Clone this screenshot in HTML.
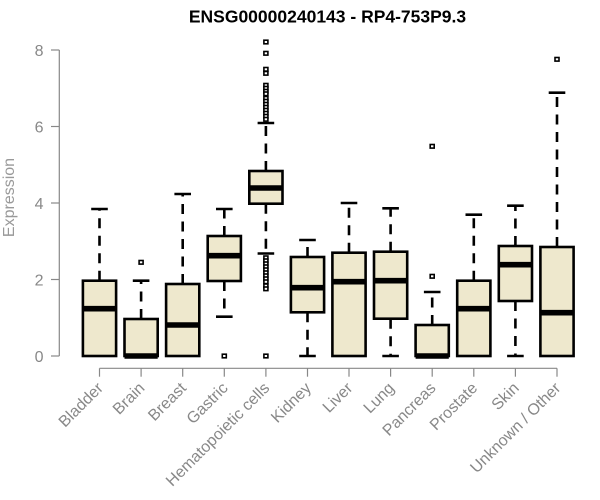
<!DOCTYPE html>
<html>
<head>
<meta charset="utf-8">
<style>
html,body{margin:0;padding:0;background:#fff;}
svg{display:block;font-family:"Liberation Sans",Arial,sans-serif;}
</style>
</head>
<body>
<svg width="600" height="500" viewBox="0 0 600 500" xmlns="http://www.w3.org/2000/svg">
<rect width="600" height="500" fill="#fff"/>
<!-- title -->
<text x="327.5" y="22.5" text-anchor="middle" font-size="17.5" font-weight="bold" fill="#000">ENSG00000240143 - RP4-753P9.3</text>

<!-- y axis -->
<g stroke="#888" stroke-width="1.2" fill="none">
<line x1="59.3" y1="50" x2="59.3" y2="356"/>
<line x1="51" y1="356" x2="59.3" y2="356"/>
<line x1="51" y1="279.5" x2="59.3" y2="279.5"/>
<line x1="51" y1="203" x2="59.3" y2="203"/>
<line x1="51" y1="126.5" x2="59.3" y2="126.5"/>
<line x1="51" y1="50" x2="59.3" y2="50"/>
</g>
<g font-size="16" fill="#888" text-anchor="end">
<text x="43.5" y="361.8">0</text>
<text x="43.5" y="285.3">2</text>
<text x="43.5" y="208.8">4</text>
<text x="43.5" y="132.3">6</text>
<text x="43.5" y="55.8">8</text>
</g>
<text transform="translate(14,197.5) rotate(-90)" text-anchor="middle" font-size="16" fill="#999">Expression</text>

<!-- x axis -->
<g stroke="#888" stroke-width="1.2" fill="none">
<line x1="99.5" y1="368.3" x2="557" y2="368.3"/>
<line x1="99.5" y1="368.3" x2="99.5" y2="376.7"/>
<line x1="141.1" y1="368.3" x2="141.1" y2="376.7"/>
<line x1="182.7" y1="368.3" x2="182.7" y2="376.7"/>
<line x1="224.3" y1="368.3" x2="224.3" y2="376.7"/>
<line x1="265.9" y1="368.3" x2="265.9" y2="376.7"/>
<line x1="307.5" y1="368.3" x2="307.5" y2="376.7"/>
<line x1="349" y1="368.3" x2="349" y2="376.7"/>
<line x1="390.6" y1="368.3" x2="390.6" y2="376.7"/>
<line x1="432.2" y1="368.3" x2="432.2" y2="376.7"/>
<line x1="473.8" y1="368.3" x2="473.8" y2="376.7"/>
<line x1="515.4" y1="368.3" x2="515.4" y2="376.7"/>
<line x1="557" y1="368.3" x2="557" y2="376.7"/>
</g>
<g font-size="16" fill="#888" text-anchor="end">
<text transform="translate(104,389) rotate(-45)">Bladder</text>
<text transform="translate(145.6,389) rotate(-45)">Brain</text>
<text transform="translate(187.2,389) rotate(-45)">Breast</text>
<text transform="translate(228.8,389) rotate(-45)">Gastric</text>
<text transform="translate(270.4,389) rotate(-45)">Hematopoietic cells</text>
<text transform="translate(312,389) rotate(-45)">Kidney</text>
<text transform="translate(353.5,389) rotate(-45)">Liver</text>
<text transform="translate(395.1,389) rotate(-45)">Lung</text>
<text transform="translate(436.7,389) rotate(-45)">Pancreas</text>
<text transform="translate(478.3,389) rotate(-45)">Prostate</text>
<text transform="translate(519.9,389) rotate(-45)">Skin</text>
<text transform="translate(561.5,389) rotate(-45)">Unknown / Other</text>
</g>

<!-- whiskers (dashed) -->
<g stroke="#000" stroke-width="2.6" stroke-dasharray="10 7.5" fill="none">
<line x1="99.5" y1="280.7" x2="99.5" y2="209"/>
<line x1="141.1" y1="319" x2="141.1" y2="280.7"/>
<line x1="182.7" y1="284" x2="182.7" y2="194"/>
<line x1="224.3" y1="236" x2="224.3" y2="209"/>
<line x1="224.3" y1="281" x2="224.3" y2="316.7"/>
<line x1="265.9" y1="171" x2="265.9" y2="123"/>
<line x1="265.9" y1="203.7" x2="265.9" y2="253.5"/>
<line x1="307.5" y1="257" x2="307.5" y2="240"/>
<line x1="307.5" y1="312.3" x2="307.5" y2="356"/>
<line x1="349" y1="252.7" x2="349" y2="203"/>
<line x1="390.6" y1="251.7" x2="390.6" y2="208.3"/>
<line x1="390.6" y1="318.7" x2="390.6" y2="356"/>
<line x1="432.2" y1="325" x2="432.2" y2="292"/>
<line x1="473.8" y1="280.7" x2="473.8" y2="214.7"/>
<line x1="515.4" y1="246" x2="515.4" y2="205.7"/>
<line x1="515.4" y1="301" x2="515.4" y2="356"/>
<line x1="557" y1="247" x2="557" y2="92.7"/>
</g>
<!-- caps -->
<g stroke="#000" stroke-width="2.6" fill="none">
<line x1="91.2" y1="209" x2="107.8" y2="209"/>
<line x1="132.8" y1="280.7" x2="149.4" y2="280.7"/>
<line x1="174.4" y1="194" x2="191" y2="194"/>
<line x1="216" y1="209" x2="232.6" y2="209"/>
<line x1="216" y1="316.7" x2="232.6" y2="316.7"/>
<line x1="257.6" y1="123" x2="274.2" y2="123"/>
<line x1="257.6" y1="253.5" x2="274.2" y2="253.5"/>
<line x1="299.2" y1="240" x2="315.8" y2="240"/>
<line x1="299.2" y1="356" x2="315.8" y2="356"/>
<line x1="340.7" y1="203" x2="357.3" y2="203"/>
<line x1="382.3" y1="208.3" x2="398.9" y2="208.3"/>
<line x1="382.3" y1="356" x2="398.9" y2="356"/>
<line x1="423.9" y1="292" x2="440.5" y2="292"/>
<line x1="465.5" y1="214.7" x2="482.1" y2="214.7"/>
<line x1="507.1" y1="205.7" x2="523.7" y2="205.7"/>
<line x1="507.1" y1="356" x2="523.7" y2="356"/>
<line x1="548.7" y1="92.7" x2="565.3" y2="92.7"/>
</g>
<!-- boxes -->
<g fill="#EEE8CD" stroke="#000" stroke-width="2.6">
<rect x="82.9" y="280.7" width="33.2" height="75.3"/>
<rect x="124.5" y="319" width="33.2" height="37"/>
<rect x="166.1" y="284" width="33.2" height="72"/>
<rect x="207.7" y="236" width="33.2" height="45"/>
<rect x="249.3" y="171" width="33.2" height="32.7"/>
<rect x="290.9" y="257" width="33.2" height="55.3"/>
<rect x="332.4" y="252.7" width="33.2" height="103.3"/>
<rect x="374" y="251.7" width="33.2" height="67"/>
<rect x="415.6" y="325" width="33.2" height="31"/>
<rect x="457.2" y="280.7" width="33.2" height="75.3"/>
<rect x="498.8" y="246" width="33.2" height="55"/>
<rect x="540.4" y="247" width="33.2" height="109"/>
</g>
<!-- medians -->
<g stroke="#000" stroke-width="5.6">
<line x1="82.9" y1="308.7" x2="116.1" y2="308.7"/>
<line x1="124.5" y1="356" x2="157.7" y2="356"/>
<line x1="166.1" y1="325" x2="199.3" y2="325"/>
<line x1="207.7" y1="255.7" x2="240.9" y2="255.7"/>
<line x1="249.3" y1="188" x2="282.5" y2="188"/>
<line x1="290.9" y1="287.7" x2="324.1" y2="287.7"/>
<line x1="332.4" y1="281.7" x2="365.6" y2="281.7"/>
<line x1="374" y1="280.7" x2="407.2" y2="280.7"/>
<line x1="415.6" y1="356" x2="448.8" y2="356"/>
<line x1="457.2" y1="308.7" x2="490.4" y2="308.7"/>
<line x1="498.8" y1="264.7" x2="532" y2="264.7"/>
<line x1="540.4" y1="312.7" x2="573.6" y2="312.7"/>
</g>
<!-- outliers -->
<g fill="#fff" stroke="#000" stroke-width="1.6">
<rect x="139.1" y="260.5" width="4" height="3.6"/>
<rect x="222.3" y="354.2" width="4" height="3.6"/>
<rect x="263.9" y="40.2" width="4" height="3.6"/>
<rect x="263.9" y="51.5" width="4" height="3.6"/>
<rect x="263.9" y="67.5" width="4" height="3.6"/>
<rect x="263.9" y="71.5" width="4" height="3.6"/>
<rect x="263.9" y="83.5" width="4" height="3.6"/>
<rect x="263.9" y="86.5" width="4" height="3.6"/>
<rect x="263.9" y="89.5" width="4" height="3.6"/>
<rect x="263.9" y="92" width="4" height="3.6"/>
<rect x="263.9" y="96.5" width="4" height="3.6"/>
<rect x="263.9" y="99.5" width="4" height="3.6"/>
<rect x="263.9" y="102.5" width="4" height="3.6"/>
<rect x="263.9" y="105.5" width="4" height="3.6"/>
<rect x="263.9" y="108.5" width="4" height="3.6"/>
<rect x="263.9" y="111.5" width="4" height="3.6"/>
<rect x="263.9" y="114.5" width="4" height="3.6"/>
<rect x="263.9" y="117.5" width="4" height="3.6"/>
<rect x="263.9" y="256" width="4" height="3.6"/>
<rect x="263.9" y="259" width="4" height="3.6"/>
<rect x="263.9" y="262" width="4" height="3.6"/>
<rect x="263.9" y="265" width="4" height="3.6"/>
<rect x="263.9" y="268" width="4" height="3.6"/>
<rect x="263.9" y="271" width="4" height="3.6"/>
<rect x="263.9" y="274" width="4" height="3.6"/>
<rect x="263.9" y="277" width="4" height="3.6"/>
<rect x="263.9" y="280" width="4" height="3.6"/>
<rect x="263.9" y="284" width="4" height="3.6"/>
<rect x="263.9" y="287" width="4" height="3.6"/>
<rect x="263.9" y="354.2" width="4" height="3.6"/>
<rect x="430.2" y="274.5" width="4" height="3.6"/>
<rect x="430.2" y="144.5" width="4" height="3.6"/>
<rect x="555" y="57.5" width="4" height="3.6"/>
</g>
</svg>
</body>
</html>
